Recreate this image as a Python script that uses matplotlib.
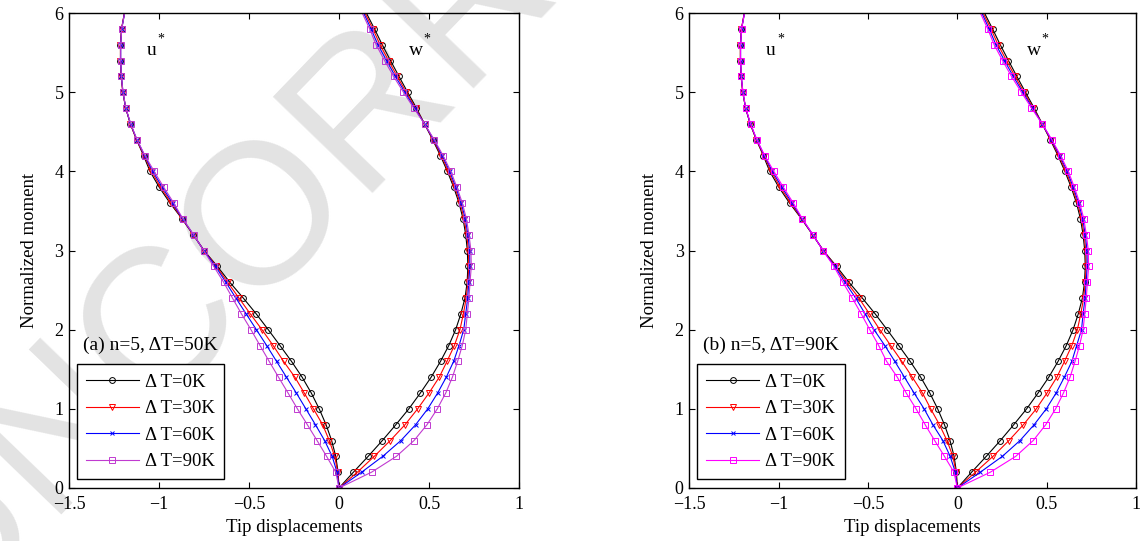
import matplotlib
matplotlib.use("Agg")
import matplotlib.pyplot as plt

plt.rcParams["font.family"] = ["Liberation Serif", "DejaVu Serif"]

# normalized moment levels (y axis)
moment = [0.0, 0.2, 0.4, 0.6, 0.8, 1.0, 1.2, 1.4, 1.6, 1.8, 2.0,
          2.2, 2.4, 2.6, 2.8, 3.0, 3.2, 3.4, 3.6, 3.8, 4.0,
          4.2, 4.4, 4.6, 4.8, 5.0, 5.2, 5.4, 5.6, 5.8, 6.0]

series_labels = ["\u0394 T=0K", "\u0394 T=30K", "\u0394 T=60K", "\u0394 T=90K"]
panel_titles = ["(a) n=5, \u0394T=50K", "(b) n=5, \u0394T=90K"]
x_ticks = [-1.5, -1.0, -0.5, 0.0, 0.5, 1.0]
y_ticks = [0, 1, 2, 3, 4, 5, 6]

# ---- panel (a): horizontal tip displacement u*
u_a_0K = [0.0, -0.005, -0.018, -0.041, -0.072, -0.110, -0.154, -0.205, -0.264, -0.328, -0.393,
          -0.460, -0.532, -0.607, -0.676, -0.750, -0.810, -0.872, -0.939, -0.999, -1.050,
          -1.086, -1.125, -1.159, -1.185, -1.201, -1.210, -1.214, -1.214, -1.208, -1.192]
u_a_30K = [0.0, -0.007, -0.024, -0.054, -0.091, -0.142, -0.193, -0.245, -0.308, -0.366, -0.428,
           -0.493, -0.556, -0.619, -0.681, -0.750, -0.810, -0.871, -0.932, -0.991, -1.042,
           -1.083, -1.125, -1.159, -1.185, -1.201, -1.210, -1.214, -1.214, -1.208, -1.192]
u_a_60K = [0.0, -0.011, -0.038, -0.080, -0.131, -0.184, -0.237, -0.292, -0.347, -0.402, -0.459,
           -0.516, -0.573, -0.629, -0.686, -0.751, -0.809, -0.869, -0.925, -0.982, -1.035,
           -1.080, -1.123, -1.158, -1.185, -1.200, -1.209, -1.213, -1.213, -1.207, -1.191]
u_a_90K = [0.0, -0.018, -0.069, -0.122, -0.176, -0.231, -0.283, -0.336, -0.388, -0.439, -0.489,
           -0.542, -0.592, -0.641, -0.696, -0.752, -0.808, -0.867, -0.918, -0.974, -1.027,
           -1.078, -1.122, -1.157, -1.184, -1.200, -1.209, -1.213, -1.213, -1.207, -1.191]

# ---- panel (a): vertical tip displacement w*
w_a_0K = [0.0, 0.080, 0.162, 0.241, 0.316, 0.388, 0.452, 0.512, 0.564, 0.610, 0.648,
          0.677, 0.700, 0.712, 0.716, 0.713, 0.704, 0.689, 0.667, 0.637, 0.602,
          0.563, 0.520, 0.475, 0.430, 0.381, 0.333, 0.286, 0.240, 0.197, 0.152]
w_a_30K = [0.0, 0.102, 0.196, 0.285, 0.367, 0.437, 0.500, 0.557, 0.600, 0.641, 0.672,
           0.691, 0.707, 0.716, 0.721, 0.719, 0.710, 0.695, 0.673, 0.643, 0.608,
           0.568, 0.523, 0.475, 0.425, 0.373, 0.323, 0.275, 0.228, 0.188, 0.144]
w_a_60K = [0.0, 0.126, 0.243, 0.344, 0.426, 0.493, 0.548, 0.596, 0.637, 0.667, 0.693,
           0.704, 0.715, 0.721, 0.727, 0.726, 0.716, 0.702, 0.679, 0.649, 0.615,
           0.573, 0.526, 0.475, 0.420, 0.366, 0.313, 0.264, 0.216, 0.178, 0.137]
w_a_90K = [0.0, 0.181, 0.319, 0.417, 0.489, 0.546, 0.593, 0.630, 0.659, 0.685, 0.704,
           0.713, 0.722, 0.728, 0.735, 0.733, 0.722, 0.708, 0.685, 0.655, 0.621,
           0.578, 0.529, 0.475, 0.415, 0.358, 0.303, 0.253, 0.206, 0.170, 0.129]

# ---- panel (b): horizontal tip displacement u*
u_b_0K = [0.0, -0.005, -0.018, -0.041, -0.072, -0.110, -0.154, -0.205, -0.264, -0.328, -0.393,
          -0.460, -0.532, -0.607, -0.676, -0.750, -0.810, -0.872, -0.939, -0.999, -1.050,
          -1.086, -1.125, -1.159, -1.185, -1.201, -1.210, -1.214, -1.214, -1.208, -1.192]
u_b_30K = [0.0, -0.007, -0.025, -0.058, -0.100, -0.149, -0.195, -0.252, -0.311, -0.373, -0.434,
           -0.492, -0.551, -0.619, -0.681, -0.750, -0.810, -0.871, -0.932, -0.991, -1.042,
           -1.083, -1.125, -1.159, -1.185, -1.201, -1.210, -1.214, -1.214, -1.208, -1.192]
u_b_60K = [0.0, -0.011, -0.040, -0.081, -0.137, -0.186, -0.242, -0.296, -0.350, -0.406, -0.466,
           -0.516, -0.569, -0.629, -0.686, -0.751, -0.809, -0.869, -0.925, -0.982, -1.035,
           -1.080, -1.123, -1.158, -1.185, -1.200, -1.209, -1.213, -1.213, -1.207, -1.191]
u_b_90K = [0.0, -0.019, -0.072, -0.127, -0.180, -0.231, -0.286, -0.336, -0.396, -0.440, -0.490,
           -0.538, -0.588, -0.641, -0.691, -0.752, -0.808, -0.867, -0.918, -0.974, -1.027,
           -1.078, -1.122, -1.157, -1.184, -1.200, -1.209, -1.213, -1.213, -1.207, -1.191]

# ---- panel (b): vertical tip displacement w*
w_b_0K = [0.0, 0.080, 0.162, 0.241, 0.316, 0.388, 0.452, 0.512, 0.564, 0.610, 0.648,
          0.677, 0.700, 0.712, 0.716, 0.713, 0.704, 0.689, 0.667, 0.637, 0.602,
          0.563, 0.520, 0.475, 0.430, 0.381, 0.333, 0.286, 0.240, 0.197, 0.152]
w_b_30K = [0.0, 0.102, 0.200, 0.289, 0.370, 0.442, 0.502, 0.557, 0.600, 0.641, 0.672,
           0.691, 0.707, 0.716, 0.721, 0.719, 0.710, 0.695, 0.673, 0.643, 0.608,
           0.568, 0.523, 0.475, 0.425, 0.373, 0.323, 0.275, 0.228, 0.188, 0.144]
w_b_60K = [0.0, 0.129, 0.252, 0.351, 0.430, 0.498, 0.553, 0.599, 0.641, 0.668, 0.695,
           0.704, 0.715, 0.721, 0.727, 0.726, 0.716, 0.702, 0.679, 0.649, 0.615,
           0.573, 0.526, 0.475, 0.420, 0.366, 0.313, 0.264, 0.216, 0.178, 0.137]
w_b_90K = [0.0, 0.185, 0.327, 0.425, 0.495, 0.550, 0.594, 0.631, 0.659, 0.684, 0.704,
           0.713, 0.722, 0.728, 0.735, 0.733, 0.722, 0.708, 0.685, 0.655, 0.621,
           0.578, 0.529, 0.475, 0.415, 0.358, 0.303, 0.253, 0.206, 0.170, 0.129]

panels = [
    dict(u=[u_a_0K, u_a_30K, u_a_60K, u_a_90K], w=[w_a_0K, w_a_30K, w_a_60K, w_a_90K],
         colors=["#000000", "#ff0000", "#0000ff", "#c03ad0"], title=panel_titles[0]),
    dict(u=[u_b_0K, u_b_30K, u_b_60K, u_b_90K], w=[w_b_0K, w_b_30K, w_b_60K, w_b_90K],
         colors=["#000000", "#ff0000", "#0000ff", "#ff00ff"], title=panel_titles[1]),
]
markers = ["o", "v", "x", "s"]
marker_sizes = [4.2, 4.6, 3.2, 3.8]

W, H = 1143, 541
fig = plt.figure(figsize=(W / 100, H / 100), dpi=100)

# faint background stamp
fig.text(-0.044, -0.166, "UNCORRECTED PROOF", fontsize=145, color="#e3e3e3",
         family=["Liberation Sans", "DejaVu Sans"], rotation=46,
         rotation_mode="anchor", ha="left", va="baseline", zorder=0)

axes_boxes = [(69, 13, 519, 488), (689.3, 13, 1136, 488)]

for box, p in zip(axes_boxes, panels):
    x0, y0, x1, y1 = box
    ax = fig.add_axes([x0 / W, 1 - y1 / H, (x1 - x0) / W, (y1 - y0) / H])
    ax.set_facecolor("none")
    ax.set_zorder(1)
    handles = []
    for k in range(4):
        style = dict(color=p["colors"][k], marker=markers[k], ms=marker_sizes[k],
                     mfc="none", mew=0.7, lw=0.8, markevery=slice(0, 30))
        ax.plot(p["u"][k], moment, **style)
        h, = ax.plot(p["w"][k], moment, label=series_labels[k], **style)
        handles.append(h)
    ax.set_xlim(-1.5, 1.0)
    ax.set_ylim(0, 6)
    ax.set_xticks(x_ticks)
    ax.set_xticklabels(["\u22121.5", "\u22121", "\u22120.5", "0", "0.5", "1"])
    ax.set_yticks(y_ticks)
    ax.tick_params(direction="in", top=True, right=True, length=4.5, width=0.8,
                   labelsize=13)
    ax.tick_params(axis="x", pad=6)
    ax.tick_params(axis="y", pad=4)
    for s in ax.spines.values():
        s.set_linewidth(1.0)
    ax.set_xlabel("Tip displacements", fontsize=13.5, labelpad=4)
    ax.set_ylabel("Normalized moment", fontsize=13.5, labelpad=12)

    ax.text(-1.07, 5.47, "u", fontsize=14, ha="left", va="baseline")
    ax.text(-1.01, 5.63, "*", fontsize=10, ha="left", va="baseline")
    ax.text(0.39, 5.47, "w", fontsize=14, ha="left", va="baseline")
    ax.text(0.47, 5.63, "*", fontsize=10, ha="left", va="baseline")
    ax.text(-1.425, 1.74, p["title"], fontsize=14, ha="left", va="baseline")

    leg = ax.legend(handles=handles, loc="lower left", bbox_to_anchor=(0.017, 0.018),
                    borderaxespad=0, fontsize=13.5, frameon=True, fancybox=False,
                    edgecolor="black", framealpha=1, handlelength=2.8,
                    handletextpad=0.35, labelspacing=0.5, borderpad=0.5)
    leg.get_frame().set_linewidth(1.0)

fig.savefig("out.png", dpi=100)
